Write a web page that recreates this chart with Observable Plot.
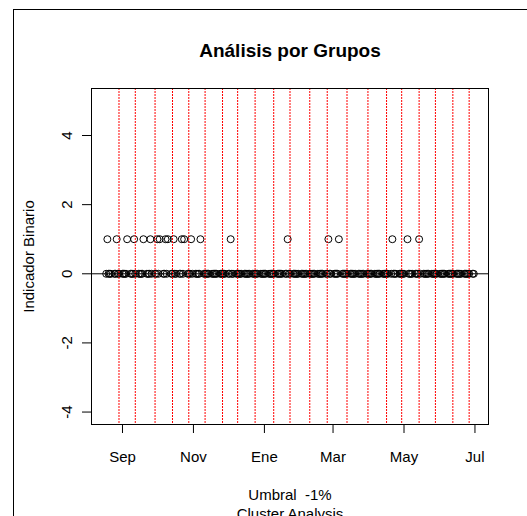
<!DOCTYPE html>
<html>
<head>
<meta charset="utf-8">
<script src="https://cdn.jsdelivr.net/npm/d3@7"></script>
<script src="https://cdn.jsdelivr.net/npm/@observablehq/plot@0.6"></script>
<style>
  html, body { margin: 0; padding: 0; background: #fff; overflow: hidden; }
  #wrap { position: relative; width: 527px; height: 516px; overflow: hidden; }
  #chart { position: absolute; left: 0; top: 0; }
  #border { position: absolute; left: 13px; top: 9px; width: 600px; height: 600px;
            border: 1px solid #000; pointer-events: none; }
</style>
</head>
<body>
<div id="wrap"><div id="chart"></div><div id="border"></div></div>
<script>
// Trading-day series: first and last observation
const seriesStart = "2008-08-18";
const seriesEnd = "2009-06-30";

// Days on which the binary indicator is 1 (daily drop beyond the -1% threshold)
const eventDates = [
  "2008-08-19", "2008-08-27", "2008-09-05", "2008-09-11", "2008-09-19",
  "2008-09-25", "2008-10-01", "2008-10-03", "2008-10-08", "2008-10-10",
  "2008-10-15", "2008-10-22", "2008-10-24", "2008-10-30", "2008-11-07",
  "2008-12-03", "2009-01-21", "2009-02-25", "2009-03-06", "2009-04-21",
  "2009-05-04", "2009-05-14"
];

// Cluster boundaries (red dotted verticals)
const clusterBreaks = [
  "2008-08-29", "2008-09-12", "2008-09-29", "2008-10-14", "2008-10-28",
  "2008-11-11", "2008-11-26", "2008-12-09", "2008-12-24", "2009-01-09",
  "2009-01-23", "2009-02-09", "2009-02-24", "2009-03-13", "2009-03-31",
  "2009-04-16", "2009-04-29", "2009-05-14", "2009-05-28", "2009-06-12",
  "2009-06-26"
];

// Axis ticks
const xTickDates = ["2008-09-01", "2008-11-01", "2009-01-01", "2009-03-01", "2009-05-01", "2009-07-01"];
const xTickLabels = ["Sep", "Nov", "Ene", "Mar", "May", "Jul"];
const yTicks = [-4, -2, 0, 2, 4];
const yLimits = [-4, 5];

const parse = d3.utcParse("%Y-%m-%d");
const fmt = d3.utcFormat("%Y-%m-%d");
const eventSet = new Set(eventDates);

// One row per weekday, indicator 1 on event days and 0 otherwise
const tradingDays = d3.utcDay
  .range(parse(seriesStart), d3.utcDay.offset(parse(seriesEnd), 1))
  .filter(d => d.getUTCDay() !== 0 && d.getUTCDay() !== 6);
const rows = tradingDays.map(d => ({date: d, value: eventSet.has(fmt(d)) ? 1 : 0}));

// Base-graphics style 4% expansion of the data ranges
const t0 = +parse(seriesStart), t1 = +parse(seriesEnd);
const xPad = (t1 - t0) * 0.04;
const yPad = (yLimits[1] - yLimits[0]) * 0.04;

const tickLabel = new Map(xTickDates.map((d, i) => [+parse(d), xTickLabels[i]]));
const fontFamily = "'Liberation Sans', Arial, Helvetica, sans-serif";
const centered = {textAnchor: "middle", lineAnchor: "middle"};

const chart = Plot.plot({
  width: 527,
  height: 516,
  marginLeft: 91,
  marginRight: 39,
  marginTop: 88,
  marginBottom: 92,
  style: {fontFamily, fontSize: "15px", background: "transparent", color: "#000"},
  x: {type: "utc", domain: [new Date(t0 - xPad), new Date(t1 + xPad)]},
  y: {domain: [yLimits[0] - yPad, yLimits[1] + yPad]},
  marks: [
    Plot.dot(rows, {x: "date", y: "value", r: 3.5, stroke: "#000", strokeWidth: 1, fill: "none"}),
    Plot.ruleY([0], {stroke: "#000"}),
    Plot.ruleX(clusterBreaks.map(parse), {stroke: "#ff0000", strokeDasharray: "2,1"}),
    Plot.frame({stroke: "#000"}),
    Plot.axisX(xTickDates.map(parse), {
      tickSize: 9, tickPadding: 18, label: null,
      tickFormat: d => tickLabel.get(+d), fontSize: 15
    }),
    Plot.axisY(yTicks, {tickSize: 9, tickFormat: () => "", label: null}),
    Plot.text(yTicks, {...centered, y: d => d, text: d => String(d), frameAnchor: "left", dx: -24, rotate: -90, fontSize: 15}),
    Plot.text(["Indicador Binario"], {...centered, text: d => d, frameAnchor: "left", dx: -62, rotate: -90, fontSize: 15}),
    Plot.text(["Análisis por Grupos"], {...centered, text: d => d, frameAnchor: "top", dy: -38, fontSize: 19, fontWeight: "bold"}),
    Plot.text(["Umbral\u00a0 -1%"], {...centered, text: d => d, frameAnchor: "bottom", dy: 71, fontSize: 15}),
    Plot.text(["Cluster Analysis"], {...centered, text: d => d, frameAnchor: "bottom", dy: 90, fontSize: 15})
  ]
});

document.getElementById("chart").appendChild(chart);
</script>
</body>
</html>
